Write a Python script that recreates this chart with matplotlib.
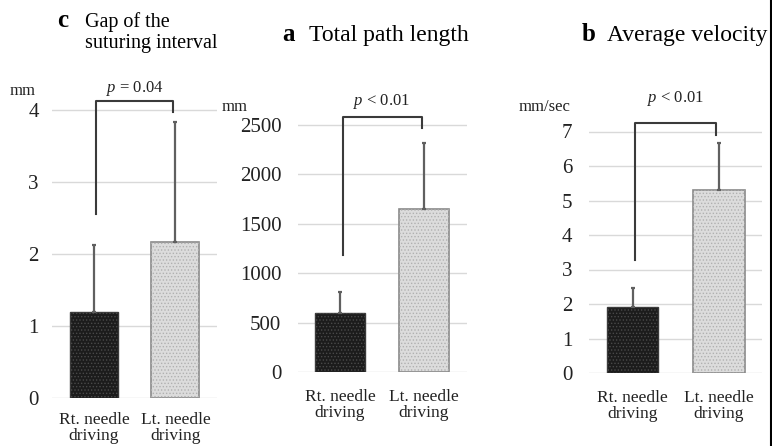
import numpy as np
import matplotlib
matplotlib.use('Agg')
import matplotlib.pyplot as plt
from matplotlib.lines import Line2D

plt.rcParams['font.family'] = ['Liberation Serif', 'DejaVu Serif']
plt.rcParams['mathtext.fontset'] = 'custom'
plt.rcParams['mathtext.it'] = 'Liberation Serif:italic'
plt.rcParams['mathtext.rm'] = 'Liberation Serif'
plt.rcParams['hatch.linewidth'] = 0.6

# Данные трёх панелей
groups = ['Rt. needle\ndriving', 'Lt. needle\ndriving']

gap_mean = [1.20, 2.17]
gap_sd = [0.92, 1.67]
gap_bracket = [4.12, 2.55, 3.97]
gap_ticks = [0, 1, 2, 3, 4]

path_mean = [600, 1645]
path_sd = [205, 675]
path_bracket = [2580, 1185, 2470]
path_ticks = [0, 500, 1000, 1500, 2000, 2500]

vel_mean = [1.92, 5.29]
vel_sd = [0.54, 1.39]
vel_bracket = [7.24, 3.28, 6.90]
vel_ticks = [0, 1, 2, 3, 4, 5, 6, 7]

W, H = 772, 446
fig = plt.figure(figsize=(W / 100, H / 100), dpi=100)


def panel(rect, means, sds, bracket, ticks, ylim, xlim, width, ptext, p_off, ypad, xpad):
    ax = fig.add_axes(rect)
    x = np.arange(len(means))
    ax.set_xlim(*xlim)
    ax.set_ylim(*ylim)
    for t in ticks:
        ax.axhline(t, color='#d9d9d9', lw=1, zorder=0)
    ax.bar(x[0], means[0], width, color='#1c1c1c', edgecolor='#3a3a3a', lw=1, zorder=2)
    ax.bar(x[0], means[0], width, color='none', edgecolor='#4a4a4a', lw=0, hatch='.....', zorder=3)
    ax.bar(x[1], means[1], width, color='#dcdcdc', edgecolor='#8a8a8a', lw=1.2, zorder=2)
    ax.bar(x[1], means[1], width, color='none', edgecolor='#b0b0b0', lw=0, hatch='.....', zorder=3)
    for i in range(len(means)):
        ax.errorbar(x[i], means[i], yerr=[[0], [sds[i]]], color='#606060', lw=1.6,
                    capsize=1.5, capthick=1.6, zorder=4)
    top, lft, rgt = bracket
    ax.plot([x[0] + 0.03, x[0] + 0.03, x[1] - 0.03, x[1] - 0.03], [lft, top, top, rgt],
            color='#3a3a3a', lw=1.5, clip_on=False, zorder=5)
    # подпись p-значения над скобкой (смещение в пикселях)
    ax.annotate(ptext, xy=((x[0] + x[1]) / 2, top), xytext=(0, p_off * 0.72),
                textcoords='offset points', ha='center', va='center',
                fontsize=12, color='#222222', annotation_clip=False)
    ax.set_yticks(ticks)
    ax.set_xticks(x)
    ax.set_xticklabels(groups, fontsize=12.5, linespacing=1.05)
    ax.tick_params(axis='y', length=0, labelsize=15, pad=ypad, colors='#222222')
    ax.tick_params(axis='x', length=0, pad=xpad, colors='#222222')
    for s in ax.spines.values():
        s.set_visible(False)
    return ax


# c
panel([52 / W, 48 / H, 165 / W, 4.2 * 72 / H], gap_mean, gap_sd, gap_bracket, gap_ticks,
      (0, 4.2), (-0.515, 1.51), 0.59, '$p$ = 0.04', 13, 9.5, 10)
# a
panel([298 / W, 74 / H, 169 / W, 2700 * 0.0988 / H], path_mean, path_sd, path_bracket, path_ticks,
      (0, 2700), (-0.5, 1.51), 0.6, '$p$ < 0.01', 16, 12, 12)
# b
panel([589 / W, 73 / H, 173 / W, 7.5 * 34.5 / H], vel_mean, vel_sd, vel_bracket, vel_ticks,
      (0, 7.5), (-0.503, 1.497), 0.59, '$p$ < 0.01', 25, 12, 12)

# единицы измерения
fig.text(10 / W, 1 - 91 / H, 'mm', fontsize=12, va='center', ha='left', color='#222222')
fig.text(222 / W, 1 - 107 / H, 'mm', fontsize=12, va='center', ha='left', color='#222222')
fig.text(519 / W, 1 - 107 / H, 'mm/sec', fontsize=12, va='center', ha='left', color='#222222')

# Заголовки панелей
fig.text(57 / W, 1 - 27 / H, 'c', fontsize=18, fontweight='bold', va='baseline', ha='left')
fig.text(85 / W, 1 - 27 / H, 'Gap of the', fontsize=14.5, va='baseline', ha='left')
fig.text(85 / W, 1 - 48 / H, 'suturing interval', fontsize=14.5, va='baseline', ha='left')
fig.text(282 / W, 1 - 41 / H, 'a', fontsize=18, fontweight='bold', va='baseline', ha='left')
fig.text(309 / W, 1 - 41 / H, 'Total path length', fontsize=17, va='baseline', ha='left')
fig.text(582 / W, 1 - 41 / H, 'b', fontsize=18, fontweight='bold', va='baseline', ha='left')
fig.text(607 / W, 1 - 41 / H, 'Average velocity', fontsize=17, va='baseline', ha='left')

fig.add_artist(Line2D([770.5 / W, 770.5 / W], [0, 1], color='black', lw=1.5))

fig.savefig('out.png', dpi=100, facecolor='white')
